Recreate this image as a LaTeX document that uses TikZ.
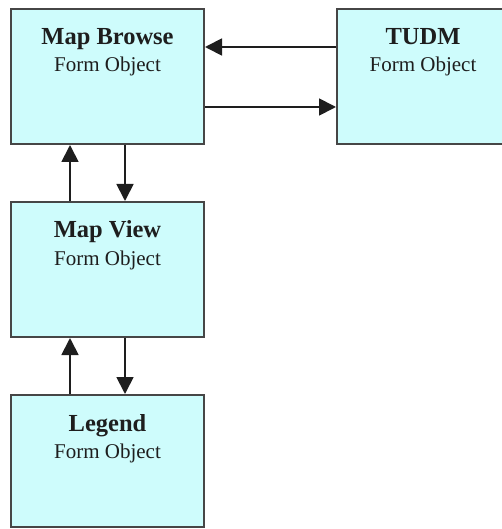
\documentclass[tikz,border=0pt]{standalone}
\usepackage{fontspec}
\setmainfont{Liberation Serif}
\usetikzlibrary{arrows.meta}
\definecolor{boxfill}{RGB}{206,252,252}
\definecolor{boxline}{RGB}{70,70,70}
\definecolor{inkc}{RGB}{30,30,30}
\tikzset{
  formbox/.style={draw=boxline, line width=2pt, fill=boxfill},
  ttl/.style={anchor=base, inner sep=0pt, text=inkc, font=\fontsize{24.5}{28}\selectfont\bfseries},
  sub/.style={anchor=base, inner sep=0pt, text=inkc, font=\fontsize{21}{25}\selectfont},
  conn/.style={draw=inkc, line width=1.8pt, -{Triangle[length=17pt,width=17pt]}}
}
\begin{document}
\begin{tikzpicture}[x=1pt,y=-1pt]
\useasboundingbox (0,0) rectangle (502,529);
\clip (0,0) rectangle (502,529);
% boxes
\node[formbox, minimum width=193pt, minimum height=135pt, inner sep=0pt] (mb) at (107.5,76.5) {};
\node[formbox, minimum width=172pt, minimum height=135pt, inner sep=0pt] (tu) at (423,76.5) {};
\node[formbox, minimum width=193pt, minimum height=135pt, inner sep=0pt] (mv) at (107.5,269.5) {};
\node[formbox, minimum width=193pt, minimum height=132pt, inner sep=0pt] (lg) at (107.5,461) {};
% texts
\node[ttl] (mbt) at (107.5,45) {Map Browse};
\node[sub] (mbs) at (107.5,72) {Form Object};
\node[ttl] (tut) at (423,45) {TUDM};
\node[sub] (tus) at (423,72) {Form Object};
\node[ttl] (mvt) at (107.5,237) {Map View};
\node[sub] (mvs) at (107.5,265) {Form Object};
\node[ttl] (lgt) at (107.5,431) {Legend};
\node[sub] (lgs) at (107.5,458) {Form Object};
% connectors
\draw[conn] (tu.west |- 0,47) -- (mb.east |- 0,47);
\draw[conn] (mb.east |- 0,107) -- (tu.west |- 0,107);
\draw[conn] (mv.north -| 70,0) -- (mb.south -| 70,0);
\draw[conn] (mb.south -| 125,0) -- (mv.north -| 125,0);
\draw[conn] (lg.north -| 70,0) -- (mv.south -| 70,0);
\draw[conn] (mv.south -| 125,0) -- (lg.north -| 125,0);
\end{tikzpicture}
\end{document}
